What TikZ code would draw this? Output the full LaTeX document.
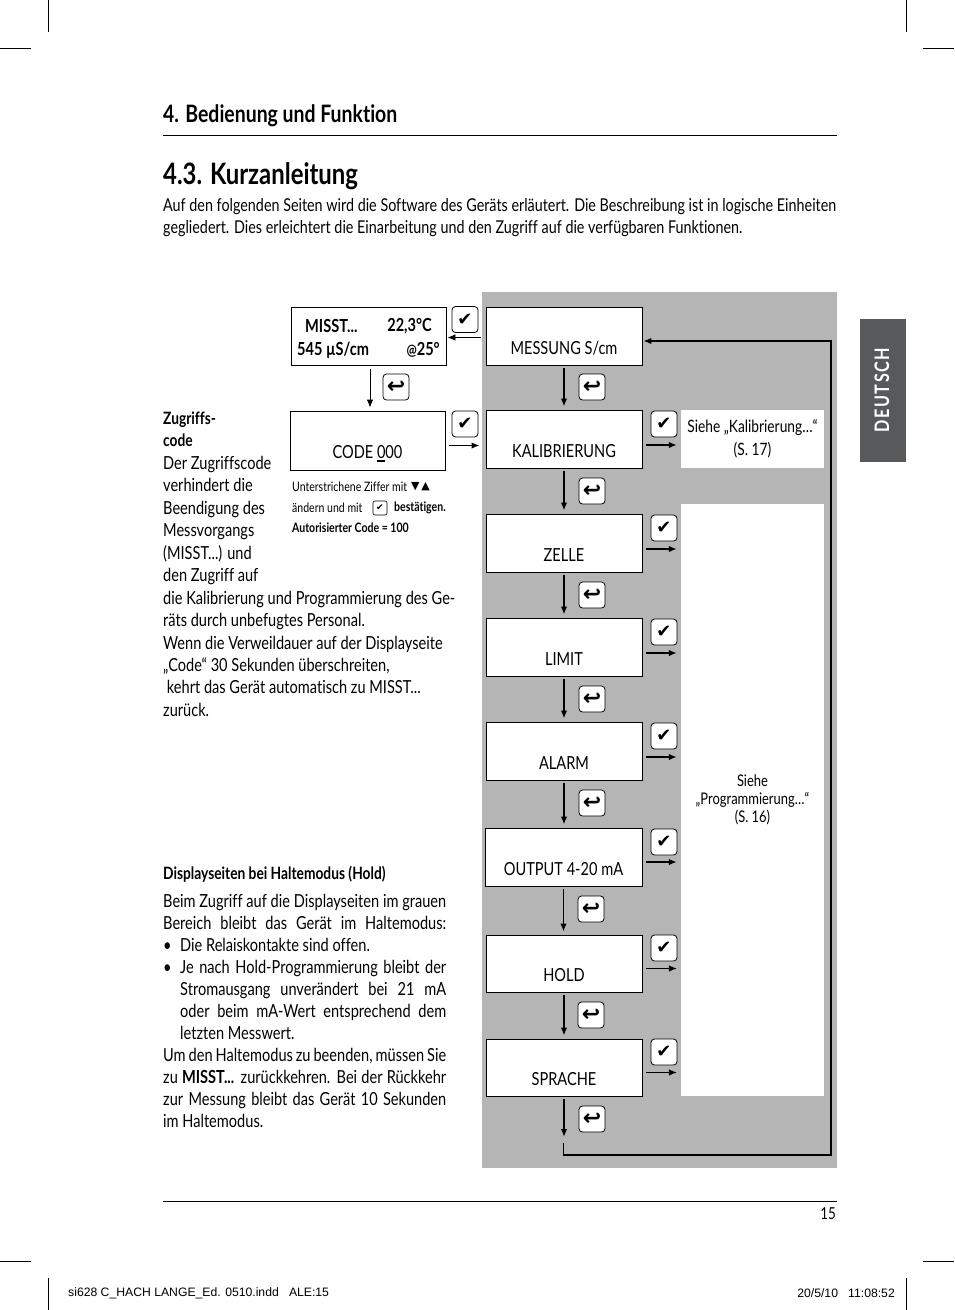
\documentclass[tikz,border=0pt]{standalone}
\usepackage{fontspec}
\usetikzlibrary{arrows.meta}
\setmainfont[FakeStretch=0.81,Ligatures={TeX,NoCommon}]{Lato}
\newfontfamily\symf{DejaVu Sans}
\newfontfamily\printf{Liberation Sans}
\definecolor{panel}{HTML}{B5B5B5}
\definecolor{tab}{HTML}{58595B}
\newcommand{\fl}[2]{\makebox[#1pt][s]{#2}}
\tikzset{
  dispbox/.style={draw,line width=0.9pt,fill=white,minimum width=156pt,minimum height=58pt,inner sep=0pt},
  disptext/.style={font=\fontsize{18}{22}\selectfont,yshift=-12pt,inner sep=0pt},
  keybox/.style={draw,line width=0.8pt,fill=white,rounded corners=3.5pt,minimum size=26pt,inner sep=0pt,font=\symf\bfseries\fontsize{18}{18}\selectfont},
  backbox/.style={keybox,font=\symf\bfseries\fontsize{22}{22}\selectfont},
  keysmall/.style={draw,line width=0.6pt,rounded corners=2pt,minimum size=14pt,inner sep=0pt,font=\symf\fontsize{9}{9}\selectfont},
  arrthick/.style={line width=1.6pt,-{Latex[length=8pt,width=6.5pt]}},
  arrthin/.style={line width=0.9pt,-{Latex[length=8pt,width=6.5pt]}},
  rulel/.style={line width=0.9pt},
  crop/.style={line width=0.7pt},
  bodytext/.style={anchor=north west,inner sep=0pt,align=left,font=\fontsize{18}{22.45}\selectfont},
  smalltext/.style={anchor=west,inner sep=0pt,font=\fontsize{13}{15}\selectfont},
  readout/.style={inner sep=0pt,font=\bfseries\fontsize{18}{22}\selectfont},
  whitebox/.style={fill=white,inner sep=0pt,align=center,font=\fontsize{17}{23}\selectfont},
}
\begin{document}
\begin{tikzpicture}[x=1pt,y=-1pt]
\useasboundingbox (0,0) rectangle (954,1310);
\fill[white] (0,0) rectangle (954,1310);
% crop marks
\draw[crop] (0,48) -- (31,48) (48,0) -- (48,32) (906,0) -- (906,32) (923,48) -- (954,48);
\draw[crop] (0,1261) -- (31,1261) (48,1278) -- (48,1310) (906,1278) -- (906,1310) (923,1261) -- (954,1261);
% header
\node[anchor=west,inner sep=0pt,font=\bfseries\fontsize{24}{26}\selectfont] (head) at (163,116) {4. Bedienung und Funktion};
\draw[rulel] (163,135.5) -- (837,135.5);
\node[anchor=west,inner sep=0pt,font=\bfseries\fontsize{29.5}{32}\selectfont] (title) at (163,176) {4.3. Kurzanleitung};
\node[bodytext,font=\fontsize{17.7}{22.3}\selectfont] (intro) at (163,198) {\fl{673}{Auf den folgenden Seiten wird die Software des Geräts erläutert. Die Beschreibung ist in logische Einheiten}\\gegliedert. Dies erleichtert die Einarbeitung und den Zugriff auf die verfügbaren Funktionen.};
% tab
\fill[tab] (860,319) rectangle (906,462);
\node[rotate=90,text=white,inner sep=0pt,font=\bfseries\fontsize{20}{24}\selectfont] (tabt) at (882,390) {D\kern1.5pt E\kern1.5pt U\kern1.5pt T\kern1.5pt S\kern1.5pt C\kern1.5pt H};
% panel
\fill[panel] (482,292) rectangle (837,1168);
\node[whitebox,minimum width=143pt,minimum height=58pt] (seek) at (752.5,439) {Siehe „Kalibrierung…“\\(S. 17)};
\node[whitebox,minimum width=143pt,minimum height=592pt,font=\fontsize{16}{18}\selectfont] (seep) at (752.5,800) {Siehe\\„Programmierung…“\\(S. 16)};
% boxes
\node[dispbox,minimum width=155pt] (misst) at (368.5,336) {};
\node[dispbox,minimum width=155pt,minimum height=59pt,label={[disptext,yshift=-1pt]center:CODE \rlap{\rule[-3.5pt]{8pt}{1.6pt}}000}] (code) at (367.5,440.5) {};
\node[dispbox,label={[disptext]center:MESSUNG S/cm}] (mess) at (564,336) {};
\node[dispbox,label={[disptext]center:KALIBRIERUNG}] (kal) at (564,439) {};
\node[dispbox,label={[disptext]center:ZELLE}] (zel) at (564,543) {};
\node[dispbox,label={[disptext]center:LIMIT}] (lim) at (564,647) {};
\node[dispbox,label={[disptext]center:ALARM}] (ala) at (564,751) {};
\node[dispbox,minimum width=157pt,label={[disptext]center:OUTPUT 4-20 mA}] (out) at (563.5,857) {};
\node[dispbox,minimum height=57pt,label={[disptext]center:HOLD}] (hol) at (564,963.5) {};
\node[dispbox,minimum height=57pt,label={[disptext]center:SPRACHE}] (spr) at (564,1067.5) {};
% readout
\node[readout,anchor=west] (r1) at (305,326) {MISST...};
\node[readout,anchor=east] (r2) at (432,326) {22,3°C};
\node[readout,anchor=west] (r3) at (297,350) {545 µS/cm};
\node[readout,anchor=east] (r4) at (440,350) {{\fontsize{15}{15}\selectfont @}25°};
% keys
\newcommand{\okk}{✔}
\newcommand{\bakk}{↩}
\node[keybox] (kc0) at (465,319.5) {\okk};
\node[keybox] (kc1) at (465,424) {\okk};
\node[backbox] (kb0) at (396,387) {\bakk};
\node[backbox] (kb1) at (592,387) {\bakk};
\node[backbox] (kb2) at (592,491) {\bakk};
\node[backbox] (kb3) at (592,595) {\bakk};
\node[backbox] (kb4) at (592,699) {\bakk};
\node[backbox] (kb5) at (592,803) {\bakk};
\node[backbox] (kb6) at (591,909) {\bakk};
\node[backbox] (kb7) at (591,1015) {\bakk};
\node[backbox] (kb8) at (592,1119) {\bakk};
\node[keybox] (k2) at (664,424) {\okk};
\node[keybox] (k3) at (664,528) {\okk};
\node[keybox] (k4) at (664,632) {\okk};
\node[keybox] (k5) at (664,736) {\okk};
\node[keybox] (k6) at (664,842) {\okk};
\node[keybox] (k7) at (664,948) {\okk};
\node[keybox] (k8) at (664,1052) {\okk};
% vertical connectors
\draw[arrthin,shorten <=4pt,shorten >=3pt] (misst.south) ++(1.5pt,0) coordinate (mdn) -- (code.north -| mdn);
\foreach \a/\b in {mess/kal,kal/zel,zel/lim,lim/ala,ala/out,out/hol,hol/spr}
  \draw[arrthick,shorten <=3pt,shorten >=3pt] (\a.south) -- (\a.south |- \b.north);
% horizontal connectors
\draw[arrthin,shorten <=5pt,shorten >=1pt] ([yshift=-1.5pt]mess.west) -- ([yshift=-1.5pt]mess.west -| misst.east);
\draw[arrthick,shorten <=4pt,shorten >=6pt] ([yshift=-5pt]code.east) -- ([yshift=-5pt]code.east -| kal.west);
\foreach \a/\s in {zel/-6,lim/-6,ala/-6,out/-5}
  \draw[arrthick,shorten <=4pt,shorten >=4pt] ([yshift=\s pt]\a.east) -- ([yshift=\s pt]\a.east -| seep.west);
\draw[arrthick,shorten <=4pt,shorten >=4pt] ([yshift=-6pt]kal.east) -- ([yshift=-6pt]kal.east -| seek.west);
\foreach \a in {hol,spr}
  \draw[arrthin,shorten <=4pt,shorten >=4pt] ([yshift=-5pt]\a.east) -- ([yshift=-5pt]\a.east -| seep.west);
% return loop
\coordinate (sprend) at (564,1137);
\coordinate (l1) at (563.5,1143);
\coordinate (l2) at (831,1155);
\coordinate (l3) at (831,341);
\draw[arrthick,shorten <=3pt] (spr.south) -- (sprend);
\draw[line width=1.4pt,-{Latex[length=8pt,width=6.5pt]},shorten >=1pt] (l1) |- (l2) -- (l3) -- (l3 -| mess.east);
% left text
\node[bodytext] (zug) at (163,411.7) {{\bfseries\fontsize{17}{22.45}\selectfont Zugriffs-}\\{\bfseries\fontsize{17}{22.45}\selectfont code}\\Der Zugriffscode\\verhindert die\\Beendigung des\\Messvorgangs\\(MISST...) und\\den Zugriff auf\\die Kalibrierung und Programmierung des Ge-\\räts durch unbefugtes Personal.\\Wenn die Verweildauer auf der Displayseite\\„Code“ 30 Sekunden überschreiten,\\\ kehrt das Gerät automatisch zu MISST...\\zurück.};
\node[smalltext] (s1) at (292,487) {Unterstrichene Ziffer mit};
\node[smalltext,font=\symf\fontsize{11}{11}\selectfont] (s1b) at (411,487) {▼\,▲};
\node[smalltext] (s2) at (292,508) {ändern und mit};
\node[keysmall] (ks) at (380,508) {✔};
\node[smalltext,font=\bfseries\fontsize{13}{15}\selectfont] (s3) at (394,508) {bestätigen.};
\node[smalltext,font=\bfseries\fontsize{13}{15}\selectfont] (s4) at (292,528) {Autorisierter Code = 100};
\node[bodytext,font=\bfseries\fontsize{17}{22}\selectfont] (dh) at (163,866) {Displayseiten bei Haltemodus (Hold)};
\node[bodytext,font=\fontsize{18}{22}\selectfont] (db) at (163,894) {\fl{283}{Beim Zugriff auf die Displayseiten im grauen}\\\fl{283}{Bereich bleibt das Gerät im Haltemodus:}\\\makebox[17pt][l]{•}Die Relaiskontakte sind offen.\\\makebox[17pt][l]{•}\fl{266}{Je nach Hold-Programmierung bleibt der}\\\hspace*{17pt}\fl{266}{Stromausgang unverändert bei 21 mA}\\\hspace*{17pt}\fl{266}{oder beim mA-Wert entsprechend dem}\\\hspace*{17pt}letzten Messwert.\\\fl{283}{Um den Haltemodus zu beenden, müssen Sie}\\\fl{283}{zu \textbf{MISST...} zurückkehren. Bei der Rückkehr}\\\fl{283}{zur Messung bleibt das Gerät 10 Sekunden}\\im Haltemodus.};
% footer
\draw[rulel] (163,1201.5) -- (837,1201.5);
\node[anchor=east,inner sep=0pt,font=\fontsize{16.5}{20}\selectfont] (pg) at (836,1214) {15};
\node[anchor=west,inner sep=0pt,font=\printf\fontsize{12.2}{13}\selectfont] (f1) at (68,1293.5) {si628 C\_HACH LANGE\_Ed. 0510.indd\ \ \ ALE:15};
\node[anchor=east,inner sep=0pt,font=\printf\fontsize{12.2}{13}\selectfont] (f2) at (895,1293.5) {20/5/10\ \ \ 11:08:52};
\end{tikzpicture}
\end{document}
